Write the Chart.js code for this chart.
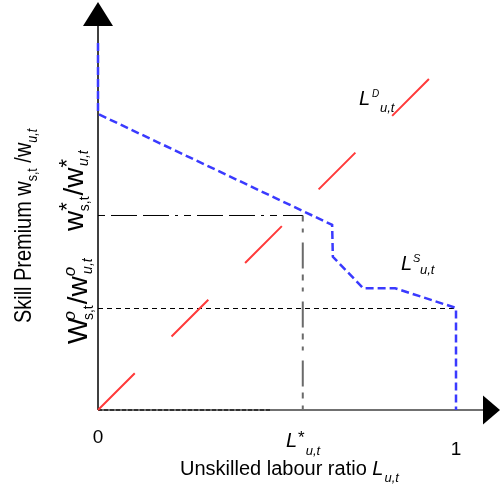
<!DOCTYPE html>
<html><head><meta charset="utf-8">
<script src="https://cdn.jsdelivr.net/npm/chart.js@4/dist/chart.umd.min.js"></script>
<style>html,body{margin:0;padding:0;background:#fff;overflow:hidden}#wrap{width:500px;height:489px;position:relative}</style>
</head><body><div id="wrap"><canvas id="c" width="500" height="489"></canvas></div>
<script>
// Labour supply curve L^S (x = unskilled labour ratio, y = skill premium)
const supplyX = [0, 0, 0.654, 0.656, 0.741, 0.830, 1.000, 1.000];
const supplyY = [1.025, 0.827, 0.517, 0.428, 0.340, 0.340, 0.285, 0.000];
// Labour demand curve L^D
const demandX = [0, 0.927];
const demandY = [0, 0.927];
// equilibrium and reference levels
const equilibriumL = [0.572];
const equilibriumW = [0.5433];
const lowPremium = [0.2835];
const baseSegmentEnd = [0.486];
const xTickValues = [0, 1];
const xTickLabels = ['0', '1'];

const FONT = "'Liberation Sans', Arial, sans-serif";

function pts(xs, ys) { return xs.map((x, i) => ({x: x, y: ys[i]})); }

function rich(ctx, parts, x, y) {
  let cx = x;
  for (const p of parts) {
    ctx.font = p.f;
    cx += (p.dx || 0);
    ctx.fillText(p.t, cx, y + (p.dy || 0));
    cx += ctx.measureText(p.t).width;
  }
}
function richRot(ctx, parts, bx, sy, sx) {
  ctx.save();
  ctx.translate(bx, sy);
  ctx.rotate(-Math.PI / 2);
  ctx.scale(sx, 1);
  rich(ctx, parts, 0, 0);
  ctx.restore();
}

const decor = {
  id: 'decor',
  beforeDatasetsDraw(chart) {
    const ctx = chart.ctx, xs = chart.scales.x, ys = chart.scales.y;
    const x0 = xs.getPixelForValue(0), y0 = ys.getPixelForValue(0);
    ctx.save();
    ctx.strokeStyle = '#707070'; ctx.lineWidth = 2;
    ctx.beginPath(); ctx.moveTo(x0, y0); ctx.lineTo(485, y0); ctx.stroke();
    ctx.strokeStyle = '#000'; ctx.lineWidth = 1.5;
    ctx.beginPath(); ctx.moveTo(x0, y0); ctx.lineTo(x0, 25); ctx.stroke();
    ctx.fillStyle = '#000';
    ctx.beginPath(); ctx.moveTo(x0 - 15, 26); ctx.lineTo(x0 + 15, 26); ctx.lineTo(x0, 2); ctx.closePath(); ctx.fill();
    ctx.beginPath(); ctx.moveTo(483, y0 - 14.5); ctx.lineTo(483, y0 + 14.5); ctx.lineTo(500, y0); ctx.closePath(); ctx.fill();
    ctx.restore();
  },
  afterDraw(chart) {
    const ctx = chart.ctx, xs = chart.scales.x;
    ctx.save();
    ctx.fillStyle = '#000';
    ctx.textBaseline = 'alphabetic';
    ctx.textAlign = 'center';
    ctx.font = '19px ' + FONT;
    ctx.fillText(xTickLabels[0], xs.getPixelForValue(xTickValues[0]), 443);
    ctx.fillText(xTickLabels[1], xs.getPixelForValue(xTickValues[1]), 455);
    ctx.textAlign = 'left';
    rich(ctx, [
      {t: 'L', f: 'italic 20px ' + FONT},
      {t: '*', f: '17px ' + FONT, dy: -4, dx: 1},
      {t: 'u,t', f: 'italic 13px ' + FONT, dy: 8, dx: 1}
    ], 286, 447);
    rich(ctx, [
      {t: 'Unskilled labour ratio ', f: '20px ' + FONT},
      {t: 'L', f: 'italic 20px ' + FONT},
      {t: 'u,t', f: 'italic 13px ' + FONT, dy: 7, dx: 1}
    ], 180, 475);
    rich(ctx, [
      {t: 'L', f: 'italic 20px ' + FONT},
      {t: 'D', f: 'italic 10px ' + FONT, dy: -8, dx: 2}
    ], 359, 105);
    rich(ctx, [{t: 'u,t', f: 'italic 13px ' + FONT}], 380, 112);
    rich(ctx, [
      {t: 'L', f: 'italic 20px ' + FONT},
      {t: 'S', f: 'italic 11px ' + FONT, dy: -8, dx: 1}
    ], 401, 270);
    rich(ctx, [{t: 'u,t', f: 'italic 13px ' + FONT}], 420, 274);
    richRot(ctx, [
      {t: 'Skill Premium w', f: '24px ' + FONT},
      {t: 's,t', f: '15px ' + FONT, dy: 6},
      {t: ' /w', f: '24px ' + FONT},
      {t: 'u,t', f: 'italic 15px ' + FONT, dy: 6}
    ], 31, 323, 0.83);
    richRot(ctx, [
      {t: 'w', f: '28px ' + FONT},
      {t: '*', f: '22px ' + FONT, dy: -9},
      {t: 's,t', f: '14px ' + FONT, dy: 6, dx: -9},
      {t: '/w', f: '28px ' + FONT, dx: 1},
      {t: '*', f: '22px ' + FONT, dy: -9},
      {t: 'u,t', f: 'italic 14px ' + FONT, dy: 5, dx: -7}
    ], 83, 231, 1.0);
    richRot(ctx, [
      {t: 'W', f: '28px ' + FONT},
      {t: 'o', f: 'italic 17px ' + FONT, dy: -12, dx: -3},
      {t: 's,t', f: '14px ' + FONT, dy: 6, dx: -9},
      {t: '/w', f: '28px ' + FONT, dx: 1},
      {t: 'o', f: 'italic 17px ' + FONT, dy: -12},
      {t: 'u,t', f: 'italic 14px ' + FONT, dy: 5, dx: -7}
    ], 87, 344, 1.0);
    ctx.restore();
  }
};

const lineDs = (label, data, color, width, dash) => ({
  label, data, showLine: true, borderColor: color, borderWidth: width, borderDash: dash,
  pointRadius: 0, pointHoverRadius: 0, fill: false, tension: 0, clip: false
});

new Chart(document.getElementById('c'), {
  type: 'scatter',
  data: {
    datasets: [
      lineDs('Supply', pts(supplyX, supplyY), '#3a3aff', 2.5, [8, 4]),
      lineDs('Demand', pts(demandX, demandY), '#ff3a3a', 2, [52, 52]),
      lineDs('Equilibrium premium', [{x: 0, y: equilibriumW[0]}, {x: equilibriumL[0], y: equilibriumW[0]}], '#000', 1, [7, 6, 26, 6, 26, 6, 3, 6]),
      lineDs('Equilibrium labour', [{x: equilibriumL[0], y: equilibriumW[0]}, {x: equilibriumL[0], y: 0}], '#6a6a6a', 2, [6, 7, 4, 10, 26, 6]),
      lineDs('Low premium', [{x: 0, y: lowPremium[0]}, {x: 1, y: lowPremium[0]}], '#000', 1, [5, 4]),
      lineDs('Base', [{x: 0, y: 0}, {x: baseSegmentEnd[0], y: 0}], '#333', 2, [4, 2])
    ]
  },
  options: {
    responsive: false,
    animation: false,
    devicePixelRatio: 1,
    layout: {padding: {left: 98, right: 0, top: 0, bottom: 79}},
    plugins: {legend: {display: false}, tooltip: {enabled: false}},
    events: [],
    scales: {
      x: {type: 'linear', min: 0, max: 402 / 358, display: false},
      y: {type: 'linear', min: 0, max: 410 / 358, display: false}
    }
  },
  plugins: [decor]
});
</script>
</body></html>
